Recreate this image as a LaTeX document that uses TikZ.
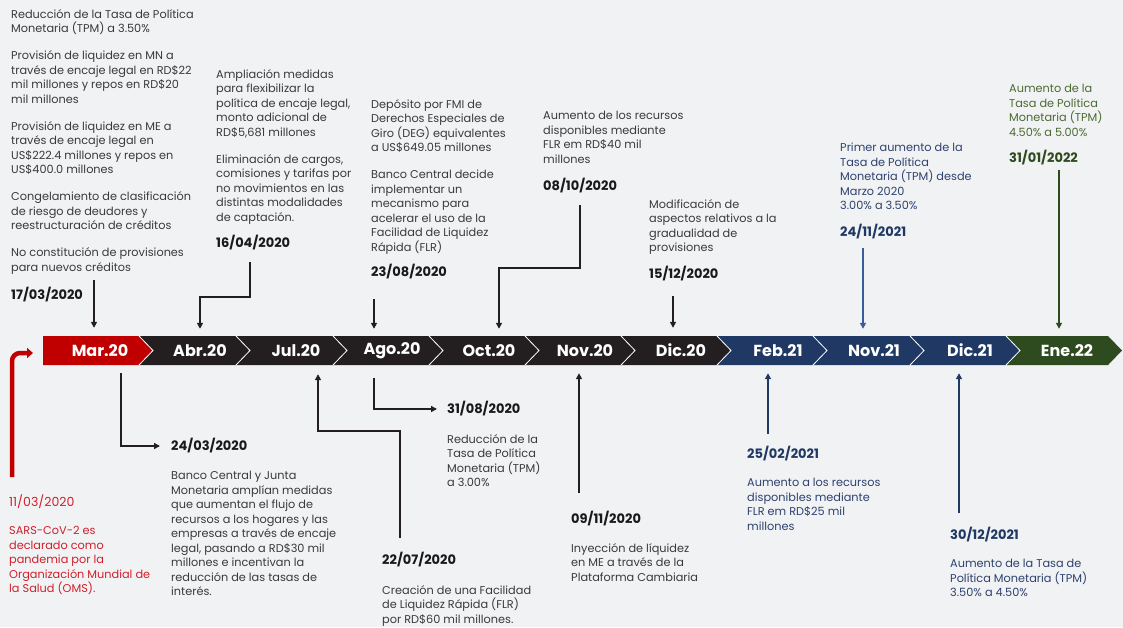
\documentclass[tikz,border=0pt]{standalone}
\usepackage{fontspec}
\setmainfont{Poppins}
\usetikzlibrary{arrows.meta}

\definecolor{bggray}{HTML}{F1F2F4}
\definecolor{barblack}{HTML}{231F20}
\definecolor{barred}{HTML}{C00000}
\definecolor{barblue}{HTML}{1F3864}
\definecolor{bargreen}{HTML}{2E4A1F}
\definecolor{txtgray}{HTML}{3A3A3A}
\definecolor{txtred}{HTML}{D0202C}
\definecolor{txtblue}{HTML}{2E416E}
\definecolor{txtgreen}{HTML}{4C6A33}
\definecolor{arrblue}{HTML}{3A5C9C}

\tikzset{
  seg/.style={text=white, font=\bfseries\fontsize{16}{16}\selectfont,
    minimum height=29pt, inner sep=0pt},
  ev/.style={anchor=north west, inner sep=0pt, align=left, text=txtgray,
    font=\fontsize{11.3}{14.5}\selectfont},
  dt/.style={anchor=west, inner sep=0pt, text=black!90,
    font=\bfseries\fontsize{13}{15}\selectfont},
  conn/.style={line width=1.6pt, draw=barblack,
    -{Triangle[length=6pt,width=6pt]}},
  sep/.style={draw=white, line width=0.8pt}
}

\begin{document}
\begin{tikzpicture}[x=1pt,y=-1pt]

% Background and page size
\fill[bggray] (0,0) rectangle (1123,627);
\useasboundingbox (0,0) rectangle (1123,627);

% Timeline bar, one chevron per month
\fill[barred] (43,336) -- (139,336) -- (153,350.5) -- (139,365) -- (43,365) -- cycle;
\fill[barblack] (139,336) -- (236,336) -- (250,350.5) -- (236,365) -- (139,365) -- (153,350.5) -- cycle;
\fill[barblack] (236,336) -- (333,336) -- (347,350.5) -- (333,365) -- (236,365) -- (250,350.5) -- cycle;
\fill[barblack] (333,336) -- (429,336) -- (443,350.5) -- (429,365) -- (333,365) -- (347,350.5) -- cycle;
\fill[barblack] (429,336) -- (525,336) -- (539,350.5) -- (525,365) -- (429,365) -- (443,350.5) -- cycle;
\fill[barblack] (525,336) -- (621,336) -- (635,350.5) -- (621,365) -- (525,365) -- (539,350.5) -- cycle;
\fill[barblack] (621,336) -- (717,336) -- (731,350.5) -- (717,365) -- (621,365) -- (635,350.5) -- cycle;
\fill[barblue] (717,336) -- (813,336) -- (827,350.5) -- (813,365) -- (717,365) -- (731,350.5) -- cycle;
\fill[barblue] (813,336) -- (910,336) -- (924,350.5) -- (910,365) -- (813,365) -- (827,350.5) -- cycle;
\fill[barblue] (910,336) -- (1006,336) -- (1020,350.5) -- (1006,365) -- (910,365) -- (924,350.5) -- cycle;
\fill[bargreen] (1006,336) -- (1108,336) -- (1122,350.5) -- (1108,365) -- (1006,365) -- (1020,350.5) -- cycle;

% White seams between chevrons
\draw[sep] (139,336) -- (153,350.5) -- (139,365);
\draw[sep] (236,336) -- (250,350.5) -- (236,365);
\draw[sep] (333,336) -- (347,350.5) -- (333,365);
\draw[sep] (429,336) -- (443,350.5) -- (429,365);
\draw[sep] (525,336) -- (539,350.5) -- (525,365);
\draw[sep] (621,336) -- (635,350.5) -- (621,365);
\draw[sep] (717,336) -- (731,350.5) -- (717,365);
\draw[sep] (813,336) -- (827,350.5) -- (813,365);
\draw[sep] (910,336) -- (924,350.5) -- (910,365);
\draw[sep] (1006,336) -- (1020,350.5) -- (1006,365);

% Month labels
\node[seg] (mar20) at (100,350.5) {Mar.20};
\node[seg] (abr20) at (200,350.5) {Abr.20};
\node[seg] (jul20) at (296,350.5) {Jul.20};
\node[seg] (ago20) at (392,350.5) {Ago.20};
\node[seg] (oct20) at (489,350.5) {Oct.20};
\node[seg] (nov20) at (585,350.5) {Nov.20};
\node[seg] (dic20) at (681,350.5) {Dic.20};
\node[seg] (feb21) at (778,350.5) {Feb.21};
\node[seg] (nov21) at (874,350.5) {Nov.21};
\node[seg] (dic21) at (970,350.5) {Dic.21};
\node[seg] (ene22) at (1067,350.5) {Ene.22};

% 11/03/2020
\node[dt, font=\fontsize{12.5}{15}\selectfont, text=txtred] (d1103) at (9,502) {11/03/2020};
\node[ev, text=txtred] (t1103) at (9,526)
{SARS-CoV-2 es\\declarado como\\pandemia por la\\Organización Mundial de\\la Salud (OMS).};
\coordinate (c1103) at (12,477);
\coordinate (e1103) at (33,353);
\draw[line width=4.5pt, draw=barred, rounded corners=8pt,
  -{Triangle[length=6pt,width=10pt]}] (c1103) |- (e1103);

% 17/03/2020
\node[ev] (t1703) at (11,9)
{Reducción de la Tasa de Política\\Monetaria (TPM) a 3.50\%\\[12.5pt]
Provisión de liquidez en MN a\\través de encaje legal en RD\$22\\mil millones y repos en RD\$20\\mil millones\\[12.5pt]
Provisión de liquidez en ME a\\través de encaje legal en\\US\$222.4 millones y repos en\\US\$400.0 millones\\[12.5pt]
Congelamiento de clasificación\\de riesgo de deudores y\\reestructuración de créditos\\[12.5pt]
No constitución de provisiones\\para nuevos créditos};
\node[dt] (d1703) at (11,295) {17/03/2020};
\coordinate (c1703) at (94,280);
\draw[conn, shorten >=8pt] (c1703) -- (c1703 |- mar20.north);

% 24/03/2020
\node[dt] (d2403) at (171,446) {24/03/2020};
\node[ev] (t2403) at (171,471)
{Banco Central y Junta\\Monetaria amplían medidas\\que aumentan el flujo de\\recursos a los hogares y las\\empresas a través de encaje\\legal, pasando a RD\$30 mil\\millones e incentivan la\\reducción de las tasas de\\interés.};
\coordinate (c2403) at (121,446);
\draw[conn, shorten <=8pt, shorten >=11pt] (c2403 |- mar20.south) |- (d2403.west);

% 16/04/2020
\node[ev] (t1604) at (216,69)
{Ampliación medidas\\para flexibilizar la\\política de encaje legal,\\monto adicional de\\RD\$5,681 millones\\[12.5pt]
Eliminación de cargos,\\comisiones y tarifas por\\no movimientos en las\\distintas modalidades\\de captación.};
\node[dt] (d1604) at (216,243) {16/04/2020};
\coordinate (c1604) at (250,262);
\coordinate (k1604) at (200,297);
\draw[conn, shorten >=7pt] (c1604) |- (k1604) -- (k1604 |- abr20.north);

% 22/07/2020
\node[dt] (d2207) at (382,560) {22/07/2020};
\node[ev] (t2207) at (382,585)
{Creación de una Facilidad\\de Liquidez Rápida (FLR)\\por RD\$60 mil millones.};
\coordinate (c2207) at (400,538);
\coordinate (k2207) at (318,431);
\draw[conn, shorten >=9pt] (c2207) |- (k2207) -- (k2207 |- jul20.south);

% 23/08/2020
\node[ev] (t2308) at (371,99)
{Depósito por FMI de\\Derechos Especiales de\\Giro (DEG) equivalentes\\a US\$649.05 millones\\[12.5pt]
Banco Central decide\\implementar un\\mecanismo para\\acelerar el uso de la\\Facilidad de Liquidez\\Rápida (FLR)};
\node[dt] (d2308) at (371,272) {23/08/2020};
\coordinate (c2308) at (374,299);
\draw[conn, shorten >=7pt] (c2308) -- (c2308 |- ago20.north);

% 31/08/2020
\node[dt] (d3108) at (447,409) {31/08/2020};
\node[ev] (t3108) at (447,434)
{Reducción de la\\Tasa de Política\\Monetaria (TPM)\\a 3.00\%};
\coordinate (c3108) at (374,408);
\draw[conn, shorten <=13pt, shorten >=10pt] (c3108 |- ago20.south) |- (d3108.west);

% 08/10/2020
\node[ev] (t0810) at (543,111)
{Aumento de los recursos\\disponibles mediante\\FLR em RD\$40 mil\\millones};
\node[dt] (d0810) at (543,186) {08/10/2020};
\coordinate (c0810) at (580,205);
\coordinate (k0810) at (499,268);
\draw[conn, shorten >=7pt] (c0810) |- (k0810) -- (k0810 |- oct20.north);

% 09/11/2020
\node[dt] (d0911) at (571,519) {09/11/2020};
\node[ev] (t0911) at (571,543)
{Inyección de líquidez\\en ME a través de la\\Plataforma Cambiaria};
\coordinate (c0911) at (579,493);
\draw[conn, shorten >=8pt] (c0911) -- (c0911 |- nov20.south);

% 15/12/2020
\node[ev] (t1512) at (649,199)
{Modificación de\\aspectos relativos a la\\gradualidad de\\provisiones};
\node[dt] (d1512) at (649,274) {15/12/2020};
\coordinate (c1512) at (673,296);
\draw[conn, shorten >=8pt] (c1512) -- (c1512 |- dic20.north);

% 25/02/2021
\node[dt, text=barblue] (d2502) at (747,454) {25/02/2021};
\node[ev, text=txtblue] (t2502) at (747,478)
{Aumento a los recursos\\disponibles mediante\\FLR em RD\$25 mil\\millones};
\coordinate (c2502) at (768,434);
\draw[conn, draw=barblue, shorten >=8pt] (c2502) -- (c2502 |- feb21.south);

% 24/11/2021
\node[ev, text=txtblue] (t2411) at (840,143)
{Primer aumento de la\\Tasa de Política\\Monetaria (TPM) desde\\Marzo 2020\\3.00\% a 3.50\%};
\node[dt, text=barblue] (d2411) at (840,232) {24/11/2021};
\coordinate (c2411) at (863,248);
\draw[conn, draw=arrblue, shorten >=7pt] (c2411) -- (c2411 |- nov21.north);

% 30/12/2021
\node[dt, text=barblue] (d3012) at (950,535) {30/12/2021};
\node[ev, text=txtblue] (t3012) at (950,559)
{Aumento de la Tasa de\\Política Monetaria (TPM)\\3.50\% a 4.50\%};
\coordinate (c3012) at (959,513);
\draw[conn, draw=barblue, shorten >=8pt] (c3012) -- (c3012 |- dic21.south);

% 31/01/2022
\node[ev, text=txtgreen] (t3101) at (1009,84)
{Aumento de la\\Tasa de Política\\Monetaria (TPM)\\4.50\% a 5.00\%};
\node[dt, text=bargreen] (d3101) at (1009,158) {31/01/2022};
\coordinate (c3101) at (1059,170);
\draw[conn, draw=bargreen, shorten >=7pt] (c3101) -- (c3101 |- ene22.north);

\end{tikzpicture}
\end{document}
